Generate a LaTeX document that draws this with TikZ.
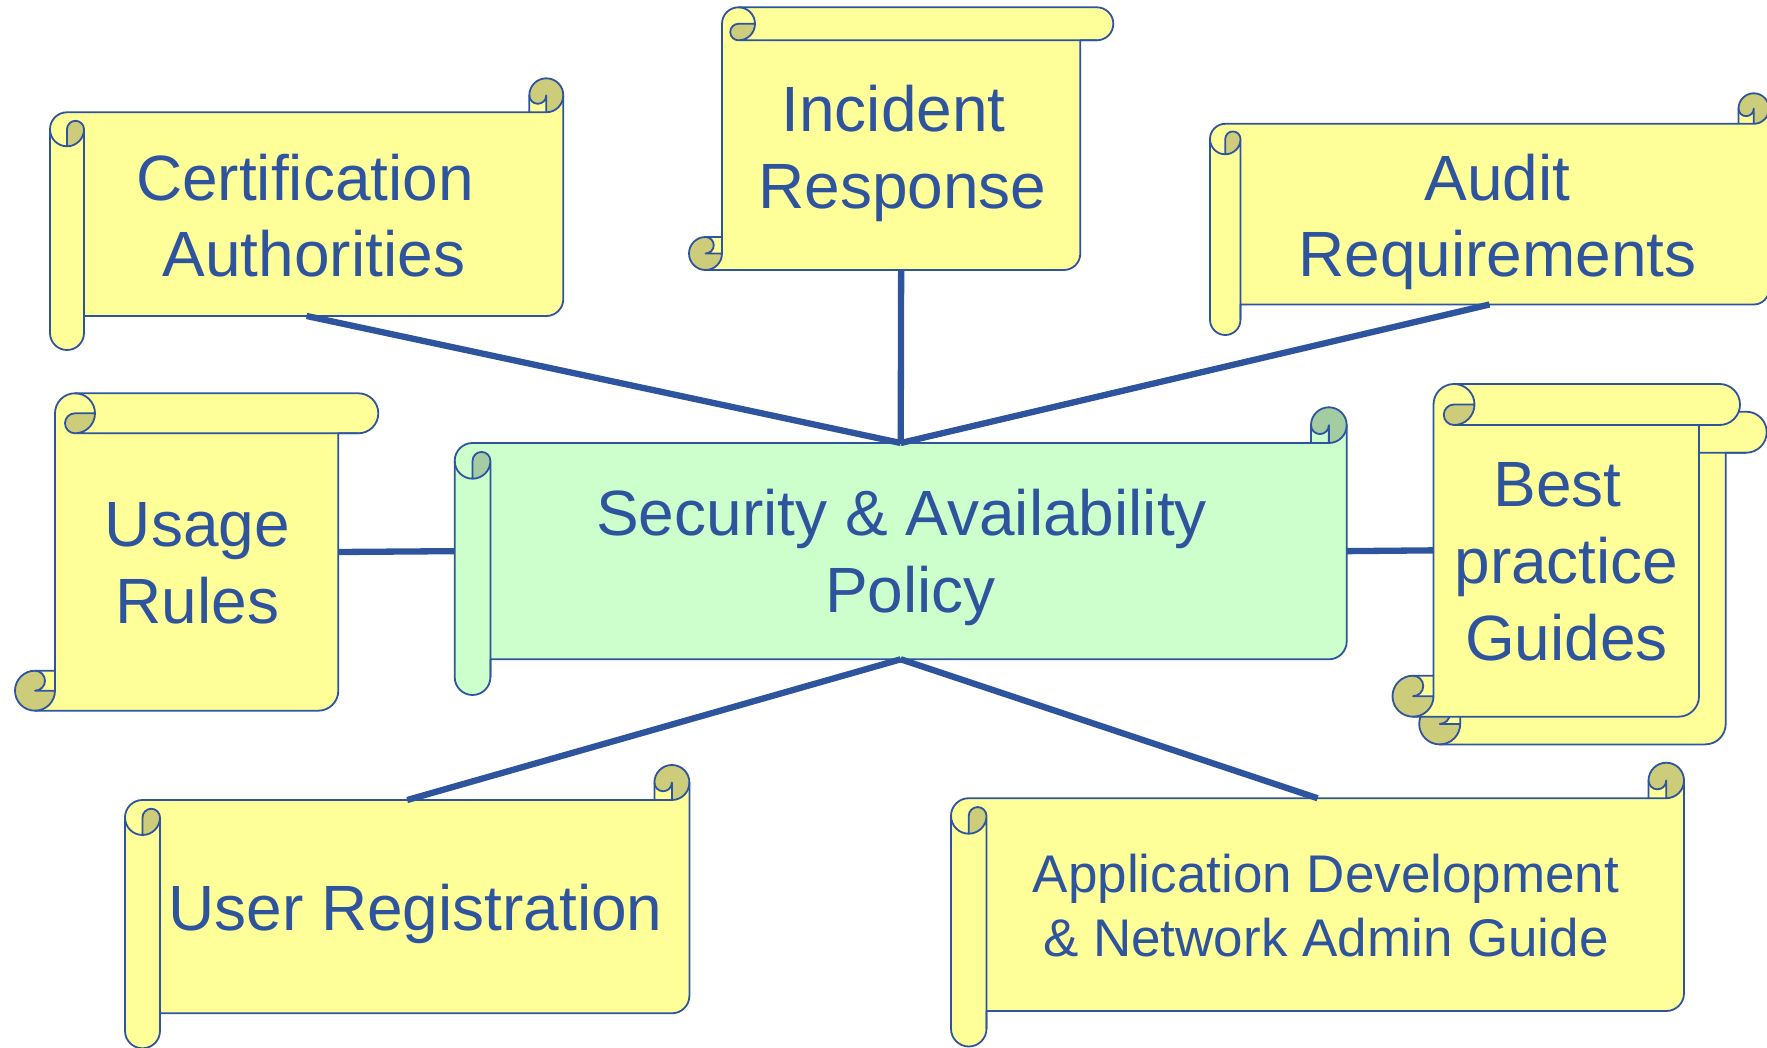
\documentclass[tikz,border=0pt]{standalone}
\usepackage{fontspec}
\setmainfont{Liberation Sans}

\definecolor{policyblue}{RGB}{46,84,158}
\definecolor{scrollyellow}{RGB}{255,255,153}
\definecolor{curlyellow}{RGB}{204,204,122}
\definecolor{scrollgreen}{RGB}{204,255,204}
\definecolor{curlgreen}{RGB}{163,204,163}

% horizontal scroll: name, left, top, right, bottom, roll, paper, curl
\newcommand{\hscroll}[8]{%
  \pgfmathsetmacro\scHh{#6/2}\pgfmathsetmacro\scHq{#6/4}
  \pgfmathsetmacro\scLi{#2+#6}\pgfmathsetmacro\scLx{#2+#6/2}
  \pgfmathsetmacro\scLy{#3+1.5*#6}\pgfmathsetmacro\scTb{#3+#6}
  \pgfmathsetmacro\scBb{#5-#6}\pgfmathsetmacro\scXc{#4-#6}
  \pgfmathsetmacro\scCx{#4-#6/2}\pgfmathsetmacro\scCy{#3+#6/2}
  \fill[#7] (#4,\scCy) -- (#4,\scBb-\scHh) arc[start angle=0,end angle=90,radius=\scHh]
    -- (\scLi,\scBb) -- (\scLi,#5-\scHh) arc[start angle=0,end angle=180,radius=\scHh]
    -- (#2,\scLy) arc[start angle=180,end angle=270,radius=\scHh]
    -- (\scXc,\scTb) -- (\scXc,\scCy) arc[start angle=180,end angle=360,radius=\scHh] -- cycle;
  \fill[#8] (\scLx,\scLy) -- (\scLx,\scLy+\scHh) arc[start angle=90,end angle=0,radius=\scHh]
    arc[start angle=0,end angle=-180,radius=\scHq] -- cycle;
  \fill[#8] (\scXc,\scCy) arc[start angle=180,end angle=450,radius=\scHh]
    -- (\scCx,\scCy) arc[start angle=0,end angle=180,radius=\scHq] -- cycle;
  \draw[rim] (\scXc,\scTb) -- (\scLx,\scTb) arc[start angle=270,end angle=180,radius=\scHh]
    -- (#2,#5-\scHh) arc[start angle=180,end angle=0,radius=\scHh]
    -- (\scLi,\scBb) -- (\scCx,\scBb) arc[start angle=90,end angle=0,radius=\scHh]
    -- (#4,\scCy) arc[start angle=0,end angle=-180,radius=\scHh] -- cycle;
  \draw[rim] (#4,\scCy) arc[start angle=0,end angle=90,radius=\scHh] -- (\scXc,\scTb)
    (\scCx,\scTb) -- (\scCx,\scCy) arc[start angle=0,end angle=180,radius=\scHq];
  \draw[rim] (#2,\scLy) arc[start angle=180,end angle=0,radius=\scHh] -- (\scLi,#5-\scHh)
    (\scLx,\scLy+\scHh) -- (\scLx,\scLy) arc[start angle=180,end angle=360,radius=\scHq];
  \coordinate (#1-n) at ({(#2+#4)/2},\scTb);
  \coordinate (#1-s) at ({(#2+#4)/2},\scBb);
  \coordinate (#1-w) at (#2,{(#3+#5)/2});
  \coordinate (#1-e) at (#4,{(#3+#5)/2});
}

% vertical scroll: name, left, top, right, bottom, roll, paper, curl
\newcommand{\vscroll}[8]{%
  \pgfmathsetmacro\scHh{#6/2}\pgfmathsetmacro\scHq{#6/4}
  \pgfmathsetmacro\scLi{#2+#6}\pgfmathsetmacro\scRi{#4-#6}
  \pgfmathsetmacro\scTx{#2+1.5*#6}\pgfmathsetmacro\scTy{#3+#6/2}
  \pgfmathsetmacro\scRb{#3+#6}\pgfmathsetmacro\scBx{#2+#6/2}
  \pgfmathsetmacro\scBy{#5-#6/2}\pgfmathsetmacro\scBt{#5-#6}
  \fill[#7] (\scBx,#5) -- (\scRi-\scHh,#5) arc[start angle=90,end angle=0,radius=\scHh]
    -- (\scRi,\scRb) -- (#4-\scHh,\scRb) arc[start angle=90,end angle=-90,radius=\scHh]
    -- (\scTx,#3) arc[start angle=-90,end angle=-180,radius=\scHh]
    -- (\scLi,\scBt) -- (\scBx,\scBt) arc[start angle=-90,end angle=-270,radius=\scHh] -- cycle;
  \fill[#8] (\scTx,\scTy) -- (\scTx+\scHh,\scTy) arc[start angle=0,end angle=90,radius=\scHh]
    arc[start angle=90,end angle=270,radius=\scHq] -- cycle;
  \fill[#8] (\scBx,\scBt) arc[start angle=-90,end angle=-360,radius=\scHh]
    -- (\scBx,\scBy) arc[start angle=90,end angle=-90,radius=\scHq] -- cycle;
  \draw[rim] (\scLi,\scBt) -- (\scLi,\scTy) arc[start angle=-180,end angle=-90,radius=\scHh]
    -- (#4-\scHh,#3) arc[start angle=-90,end angle=90,radius=\scHh]
    -- (\scRi,\scRb) -- (\scRi,#5-\scHh) arc[start angle=0,end angle=90,radius=\scHh]
    -- (\scBx,#5) arc[start angle=90,end angle=270,radius=\scHh] -- cycle;
  \draw[rim] (\scBx,#5) arc[start angle=90,end angle=0,radius=\scHh] -- (\scLi,\scBt)
    (\scLi,\scBy) -- (\scBx,\scBy) arc[start angle=90,end angle=-90,radius=\scHq];
  \draw[rim] (\scTx,#3) arc[start angle=-90,end angle=90,radius=\scHh] -- (#4-\scHh,\scRb)
    (\scTx+\scHh,\scTy) -- (\scTx,\scTy) arc[start angle=-90,end angle=-270,radius=\scHq];
  \coordinate (#1-w) at (\scLi,{(#3+#5)/2});
  \coordinate (#1-e) at (\scRi,{(#3+#5)/2});
  \coordinate (#1-s) at ({(#2+#4)/2},#5);
}

\begin{document}
\begin{tikzpicture}[x=1pt,y=-1pt,
  rim/.style={draw=policyblue, line width=1.8pt, line join=round},
  link/.style={draw=policyblue, line width=6.3pt},
  caption/.style={text=policyblue, font=\fontsize{64}{76.7}\selectfont, align=center, inner sep=0pt}]
  \useasboundingbox (0,0) rectangle (1767,1048);

  % scrolls
  \hscroll{cert}{50}{78.3}{563.3}{350}{34}{scrollyellow}{curlyellow}
  \vscroll{incident}{689}{7.3}{1113.3}{270}{33}{scrollyellow}{curlyellow}
  \hscroll{audit}{1210}{93.3}{1769}{335}{30.5}{scrollyellow}{curlyellow}
  \vscroll{usage}{15}{393.3}{378.3}{710.7}{40}{scrollyellow}{curlyellow}
  \hscroll{policy}{454.7}{407.3}{1346.7}{695}{35.7}{scrollgreen}{curlgreen}
  \vscroll{bestback}{1419.2}{411.7}{1766.7}{744.4}{41}{scrollyellow}{curlyellow}
  \vscroll{best}{1392.5}{384}{1740}{716.7}{41}{scrollyellow}{curlyellow}
  \hscroll{user}{125}{765}{689.4}{1048.3}{35}{scrollyellow}{curlyellow}
  \hscroll{app}{951}{762.7}{1684}{1046.5}{35.5}{scrollyellow}{curlyellow}

  % texts (first lines keep their trailing space)
  \node[caption] (certtext) at (313.9,215.5) {Certification\hspace*{.278em}\\Authorities};
  \node[caption] (incidenttext) at (902.5,153.6) {Incident\hspace*{.278em}\\Response};
  \node[caption] (audittext) at (1497.4,222) {Audit\\Requirements};
  \node[caption] (usagetext) at (197.4,563.2) {Usage\\Rules};
  \node[caption] (policytext) at (910.5,557.6) {Security \& Availability\hspace*{.278em}\\Policy};
  \node[caption] (besttext) at (1566.5,561.9) {Best\hspace*{.278em}\\practice\\Guides};
  \node[caption] (usertext) at (415.5,914.3) {User Registration};
  \node[caption, font=\fontsize{53}{63.3}\selectfont] (apptext) at (1326,905.5) {Application Development\\\& Network Admin Guide};

  % links
  \draw[link] (cert-s) -- (policy-n);
  \draw[link] (incident-s) -- (policy-n);
  \draw[link] (audit-s) -- (policy-n);
  \draw[link] (usage-e) -- (policy-w);
  \draw[link] (policy-e) -- (best-w);
  \draw[link] (policy-s) -- (user-n);
  \draw[link] (policy-s) -- (app-n);
\end{tikzpicture}
\end{document}
